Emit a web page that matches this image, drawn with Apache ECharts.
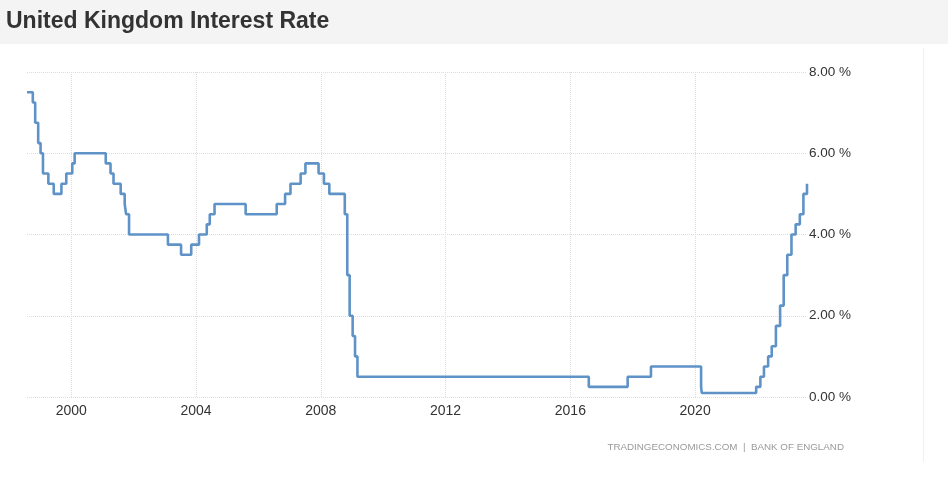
<!DOCTYPE html>
<html>
<head>
<meta charset="utf-8">
<script src="https://cdn.jsdelivr.net/npm/echarts@6/dist/echarts.min.js"></script>
<style>
html,body{margin:0;padding:0;background:#fff;}
#chart{width:948px;height:480px;}
</style>
</head>
<body>
<div id="chart"></div>
<script>
// Bank Rate change dates and the new rate (%) from each date
const changeDates = [
  '1998-08-01','1998-10-08','1998-11-05','1998-12-10','1999-01-07','1999-02-04','1999-04-08','1999-06-10',
  '1999-09-08','1999-11-04','2000-01-13','2000-02-10','2001-02-08','2001-04-05','2001-05-10','2001-08-02',
  '2001-09-18','2001-10-04','2001-11-08','2003-02-06','2003-07-10','2003-11-06','2004-02-05','2004-05-06',
  '2004-06-10','2004-08-05','2005-08-04','2006-08-03','2006-11-09','2007-01-11','2007-05-10','2007-07-05',
  '2007-12-06','2008-02-07','2008-04-10','2008-10-08','2008-11-06','2008-12-04','2009-01-08','2009-02-05',
  '2009-03-05','2016-08-04','2017-11-02','2018-08-02','2020-03-11','2020-03-19','2021-12-16','2022-02-03',
  '2022-03-17','2022-05-05','2022-06-16','2022-08-04','2022-09-22','2022-11-03','2022-12-15','2023-02-02',
  '2023-03-23','2023-05-11','2023-06-22','2023-08-03'
];
const rates = [
  7.5, 7.25, 6.75, 6.25, 6.0, 5.5, 5.25, 5.0,
  5.25, 5.5, 5.75, 6.0, 5.75, 5.5, 5.25, 5.0,
  4.75, 4.5, 4.0, 3.75, 3.5, 3.75, 4.0, 4.25,
  4.5, 4.75, 4.5, 4.75, 5.0, 5.25, 5.5, 5.75,
  5.5, 5.25, 5.0, 4.5, 3.0, 2.0, 1.5, 1.0,
  0.5, 0.25, 0.5, 0.75, 0.25, 0.1, 0.25, 0.5,
  0.75, 1.0, 1.25, 1.75, 2.25, 3.0, 3.5, 4.0,
  4.25, 4.5, 5.0, 5.25
];
const xTickDates = ['2000-01-01','2004-01-01','2008-01-01','2012-01-01','2016-01-01','2020-01-01'];
const yTicks = [0, 2, 4, 6, 8];
const titleText = 'United Kingdom Interest Rate';
const sourceText = 'TRADINGECONOMICS.COM  |  BANK OF ENGLAND';

const toTs = s => new Date(s + 'T00:00:00Z').getTime();
const seriesData = changeDates.map((d, i) => [toTs(d), rates[i]]);
const xTickVals = xTickDates.map(toTs);
const font = 'Arial, "Liberation Sans", sans-serif';
const gridLine = {color: '#dcdcdc', type: 'dotted', width: 1};

const chart = echarts.init(document.getElementById('chart'), null, {renderer: 'canvas'});
chart.setOption({
  animation: false,
  backgroundColor: '#ffffff',
  graphic: [
    {type: 'rect', left: 0, top: 0, z: -10, shape: {width: 948, height: 44}, style: {fill: '#f4f4f4'}},
    {type: 'line', z: -10, shape: {x1: 923.5, y1: 48, x2: 923.5, y2: 462}, style: {stroke: '#f0f0f0', lineWidth: 1}},
    {type: 'text', right: 104, top: 442, style: {text: sourceText, fill: '#9a9a9a', fontSize: 9.8, fontFamily: font}}
  ],
  title: {
    text: titleText, left: 1, top: 5,
    textStyle: {fontSize: 23, fontWeight: 'bold', color: '#333', fontFamily: font}
  },
  grid: {left: 27, right: 141, top: 72, bottom: 83, containLabel: false},
  xAxis: {
    type: 'value',
    min: toTs(changeDates[0]),
    max: toTs(changeDates[changeDates.length - 1]),
    axisLine: {show: false},
    axisTick: {show: false},
    axisLabel: {
      customValues: xTickVals, margin: 7,
      formatter: v => String(new Date(v).getUTCFullYear()),
      color: '#333', fontSize: 14, fontFamily: font
    },
    splitLine: {show: false}
  },
  yAxis: {
    type: 'value', position: 'right', min: 0, max: 8, interval: 2,
    axisLine: {show: false}, axisTick: {show: false},
    axisLabel: {
      margin: 2, color: '#333', fontSize: 13.5, fontFamily: font,
      formatter: v => v.toFixed(2) + ' %'
    },
    splitLine: {show: true, lineStyle: gridLine}
  },
  series: [{
    type: 'line', step: 'end', data: seriesData, symbol: 'none',
    lineStyle: {color: '#5f93c7', width: 2.6},
    clip: false,
    z: 3,
    markLine: {
      silent: true, symbol: 'none', label: {show: false}, z: 1,
      lineStyle: gridLine,
      data: xTickVals.map(v => ({xAxis: v}))
    }
  }]
});
</script>
</body>
</html>
